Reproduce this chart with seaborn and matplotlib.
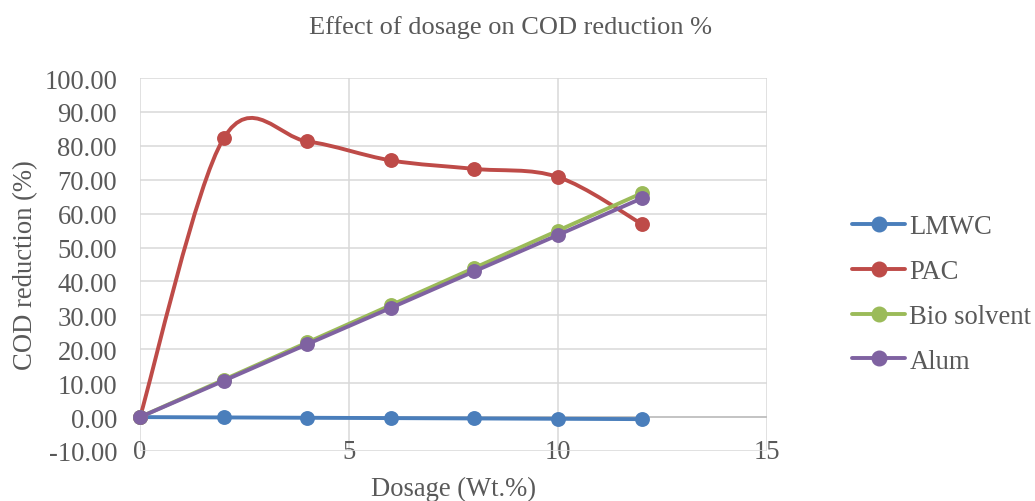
import numpy as np
import pandas as pd
import seaborn as sns
import matplotlib
matplotlib.use('Agg')
import matplotlib.pyplot as plt
from matplotlib.path import Path
from matplotlib.patches import PathPatch
from matplotlib.lines import Line2D

# values
dosage = [0, 2, 4, 6, 8, 10, 12]
lmwc = [0.00, -0.10, -0.20, -0.30, -0.40, -0.50, -0.60]
pac = [0.00, 82.2, 81.3, 75.7, 73.2, 70.8, 57.0]
bio_solvent = [0.00, 11.0, 22.0, 33.0, 44.0, 55.0, 66.0]
alum = [0.00, 10.7, 21.5, 32.2, 43.0, 53.7, 64.5]

series_names = ['LMWC', 'PAC', 'Bio solvent', 'Alum']
series_values = [lmwc, pac, bio_solvent, alum]
colors = ['#4A7EBB', '#BE4B48', '#9BBB59', '#7F62A1']

x_ticks = [0, 5, 10, 15]
y_ticks = [-10, 0, 10, 20, 30, 40, 50, 60, 70, 80, 90, 100]

rows = []
for name, vals in zip(series_names, series_values):
    for d, v in zip(dosage, vals):
        rows.append({'Dosage': d, 'COD': v, 'Series': name})
df = pd.DataFrame(rows)


def smooth_path(x, y):
    # Excel-style smoothed line: cubic bezier through the points
    pts = np.column_stack([x, y]).astype(float)
    n = len(pts)
    verts = [pts[0]]
    codes = [Path.MOVETO]
    for i in range(n - 1):
        p0 = pts[max(i - 1, 0)]
        p1 = pts[i]
        p2 = pts[i + 1]
        p3 = pts[min(i + 2, n - 1)]
        verts += [p1 + (p2 - p0) / 6, p2 - (p3 - p1) / 6, p2]
        codes += [Path.CURVE4] * 3
    return Path(verts, codes)


sns.set_theme(style='whitegrid')
plt.rcParams['font.family'] = ['Liberation Serif', 'DejaVu Serif']
plt.rcParams['axes.unicode_minus'] = False
text_color = '#595959'
fs = 19.2

fig = plt.figure(figsize=(10.35, 5.02), dpi=100)
ax = fig.add_axes([140 / 1035, 1 - 452 / 502, 627 / 1035, 373 / 502])

for k, (name, color) in enumerate(zip(series_names, colors)):
    sub = df[df['Series'] == name]
    patch = PathPatch(smooth_path(sub['Dosage'], sub['COD']), fill=False,
                      edgecolor=color, lw=2.8, capstyle='round',
                      joinstyle='round', zorder=3 + k)
    ax.add_patch(patch)
    sns.scatterplot(data=sub, x='Dosage', y='COD', color=color, s=115,
                    edgecolor=color, linewidth=0, ax=ax, zorder=3.5 + k,
                    clip_on=False, legend=False)

ax.set_xlim(0, 15)
ax.set_ylim(-10, 100)
ax.set_xticks(x_ticks)
ax.set_yticks(y_ticks)
ax.set_yticklabels([f"{v:.2f}" for v in y_ticks])
ax.grid(True, color='#D9D9D9', lw=1.1)
ax.set_axisbelow(True)
ax.axhline(0, color='#BFBFBF', lw=1.2, zorder=2)
for s in ax.spines.values():
    s.set_visible(False)
ax.tick_params(axis='both', length=0, labelsize=fs, labelcolor=text_color)
ax.tick_params(axis='x', pad=-8.9)
ax.tick_params(axis='y', pad=16.5)

ax.set_xlabel('Dosage (Wt.%)', fontsize=fs, color=text_color)
ax.xaxis.set_label_coords(0.5, -0.066)
ax.set_ylabel('COD reduction (%)', fontsize=fs, color=text_color)
ax.yaxis.set_label_coords(-0.163, 0.5)

fig.text(0.493, 1 - 28 / 502, 'Effect of dosage on COD reduction %',
         ha='center', va='center', fontsize=19, color=text_color)

handles = [Line2D([0], [0], color=c, lw=2.8, marker='o', markersize=10.5)
           for c in colors]
ax.legend(handles, series_names, loc='center left',
          bbox_to_anchor=(852 / 1035, 1 - 295 / 502),
          bbox_transform=fig.transFigure, frameon=False, fontsize=fs,
          labelcolor=text_color, handlelength=2.0, handletextpad=0.15,
          labelspacing=0.74, borderpad=0, borderaxespad=0)

fig.savefig('out.png', dpi=100)
